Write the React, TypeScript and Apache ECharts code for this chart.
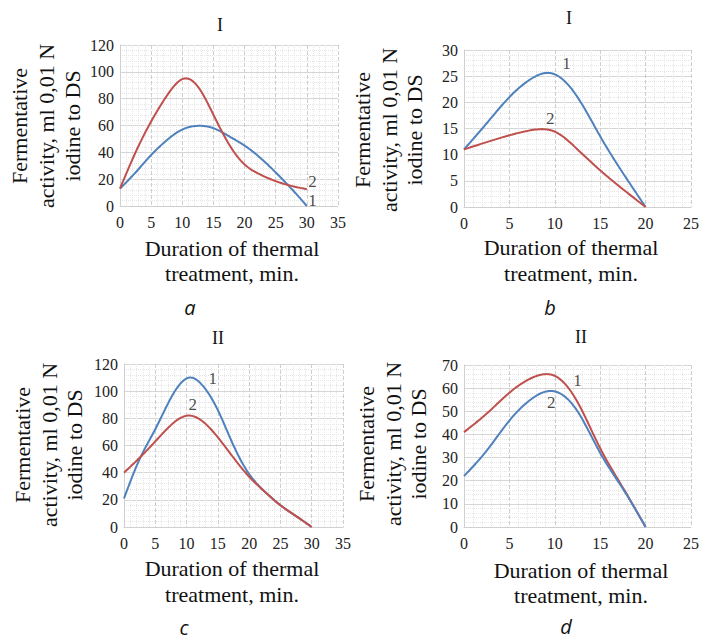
import React, { useEffect, useRef } from "react";
import * as echarts from "echarts";

// ---- data ----
// panel a
const aX1 = [0, 2.5, 5, 7.5, 10, 12.3, 15, 17.5, 20, 22.5, 25, 27.5, 30];
const aY1 = [13, 25, 38, 49, 57, 59.7, 58, 52, 45, 36, 25, 13, 0];
const aX2 = [0, 2.5, 5, 7.5, 10.3, 12.5, 15, 17.5, 20, 22.5, 25, 27.5, 30];
const aY2 = [13, 40, 63, 82, 95, 89, 68, 46, 31, 23.5, 18.5, 15, 12.5];
// panel b
const bX1 = [0, 2.5, 5, 7.5, 9.5, 12.5, 15, 17.5, 20];
const bY1 = [11, 16, 21, 24.6, 25.6, 21, 13.5, 6.5, 0];
const bX2 = [0, 2.5, 5, 7.5, 10, 12.5, 15, 17.5, 20];
const bY2 = [11, 12.4, 13.7, 14.7, 14.4, 11, 7, 3.4, 0];
// panel c
const cX1 = [0, 2.5, 5, 7.5, 10.5, 12.5, 15, 17.5, 20, 22.5, 25, 27.5, 30];
const cY1 = [21, 50, 72, 95, 110, 104.5, 86, 60, 39, 26, 16, 8, 0];
const cX2 = [0, 2.5, 5, 7.5, 10.2, 12.5, 15, 17.5, 20, 22.5, 25, 27.5, 30];
const cY2 = [40, 51, 63, 75, 82, 78, 66, 51, 37, 26, 16, 8, 0];
// panel d
const dX1 = [0, 2.5, 5, 7.5, 8.8, 10, 12.5, 15, 17.5, 20];
const dY1 = [41, 49, 58, 64.5, 66, 65.3, 54, 34, 17, 0];
const dX2 = [0, 2.5, 5, 7.5, 9.5, 12.5, 15, 17.5, 20];
const dY2 = [22, 33, 46, 55.5, 58.8, 50, 32, 16.5, 0];

// curve number labels (data coordinates)
const labelsA = [[30.9, 4.2, "1"], [30.9, 18, "2"]];
const labelsB = [[11.3, 27.4, "1"], [9.5, 17, "2"]];
const labelsC = [[14.2, 109, "1"], [11, 90, "2"]];
const labelsD = [[12.5, 63.5, "1"], [9.6, 54, "2"]];

const panelTitles = ["I", "I", "II", "II"];
const panelLetters = ["a", "b", "c", "d"];
const yNameLines = ["Fermentative", "activity, ml 0,01 N", "iodine to DS"];
const xNameLines = ["Duration of thermal", "treatment, min."];

const BLUE = "#4F81BD";
const RED = "#C0504D";
const SERIF = "Liberation Serif";

const pairs = (xs: number[], ys: number[]) => xs.map((x, i) => [x, ys[i]]);

// natural cubic spline through the given points, sampled for drawing
function splineSamples(xs: number[], ys: number[], per = 14): number[][] {
  const n = xs.length;
  if (n < 3) return pairs(xs, ys);
  const h: number[] = [];
  for (let i = 0; i < n - 1; i++) h.push(xs[i + 1] - xs[i]);
  const M = new Array(n).fill(0);
  const A: number[] = [], B: number[] = [], C: number[] = [], D: number[] = [];
  for (let i = 1; i < n - 1; i++) {
    A.push(h[i - 1]);
    B.push(2 * (h[i - 1] + h[i]));
    C.push(h[i]);
    D.push(6 * ((ys[i + 1] - ys[i]) / h[i] - (ys[i] - ys[i - 1]) / h[i - 1]));
  }
  const m = B.length;
  for (let i = 1; i < m; i++) {
    const w = A[i] / B[i - 1];
    B[i] -= w * C[i - 1];
    D[i] -= w * D[i - 1];
  }
  const sol = new Array(m).fill(0);
  sol[m - 1] = D[m - 1] / B[m - 1];
  for (let i = m - 2; i >= 0; i--) sol[i] = (D[i] - C[i] * sol[i + 1]) / B[i];
  for (let i = 0; i < m; i++) M[i + 1] = sol[i];
  const out: number[][] = [];
  for (let i = 0; i < n - 1; i++) {
    const hi = h[i];
    for (let k = 0; k < per; k++) {
      const x = xs[i] + (hi * k) / per;
      const a = xs[i + 1] - x;
      const b = x - xs[i];
      const y =
        (M[i] * a * a * a) / (6 * hi) +
        (M[i + 1] * b * b * b) / (6 * hi) +
        (ys[i] / hi - (M[i] * hi) / 6) * a +
        (ys[i + 1] / hi - (M[i + 1] * hi) / 6) * b;
      out.push([x, y]);
    }
  }
  out.push([xs[n - 1], ys[n - 1]]);
  return out;
}

export default function App() {
  const ref = useRef<HTMLDivElement>(null);
  useEffect(() => {
    if (!ref.current) return;
    const chart = echarts.init(ref.current, null, { renderer: "svg" });

    const grids = [
      { left: 120, top: 45, width: 218, height: 161 },
      { left: 464, top: 50, width: 233, height: 157 },
      { left: 124, top: 364, width: 219, height: 163 },
      { left: 464, top: 365, width: 240, height: 162 },
    ];
    const xMax = [35, 25, 35, 25];
    const yMax = [120, 30, 120, 70];
    const yInt = [20, 5, 20, 10];

    const xAxis = grids.map((_, i) => ({
      type: "value",
      gridIndex: i,
      min: 0,
      max: xMax[i],
      interval: 5,
      axisLine: { show: true, lineStyle: { color: "#d0d0d0" } },
      axisTick: { show: false },
      axisLabel: { color: "#222", fontSize: 16, fontFamily: SERIF, margin: 8 },
      splitLine: { show: true, lineStyle: { color: "#cfcfcf", type: "dashed", width: 1 } },
      minorTick: { show: false, splitNumber: 5 },
      minorSplitLine: { show: true, lineStyle: { color: "#e6e6e6", type: "dotted", width: 1 } },
    }));
    const yAxis = grids.map((_, i) => ({
      type: "value",
      gridIndex: i,
      min: 0,
      max: yMax[i],
      interval: yInt[i],
      axisLine: { show: true, lineStyle: { color: "#d0d0d0" } },
      axisTick: { show: false },
      axisLabel: { color: "#222", fontSize: 16, fontFamily: SERIF, margin: 6 },
      splitLine: { show: true, lineStyle: { color: "#d6d6d6", type: "solid", width: 1 } },
      minorTick: { show: false, splitNumber: 5 },
      minorSplitLine: { show: true, lineStyle: { color: "#e6e6e6", type: "dotted", width: 1 } },
    }));

    const curve = (idx: number, xs: number[], ys: number[], color: string) => ({
      type: "custom",
      xAxisIndex: idx,
      yAxisIndex: idx,
      coordinateSystem: "cartesian2d",
      data: pairs(xs, ys),
      silent: true,
      clip: false,
      renderItem: (params: any, api: any) => {
        if (params.dataIndex !== 0) return null;
        const pts = splineSamples(xs, ys).map((p) => api.coord(p));
        return {
          type: "polyline",
          shape: { points: pts, smooth: 0 },
          style: { stroke: color, lineWidth: 2, fill: "none", lineJoin: "round" },
        };
      },
    });

    const labels = (idx: number, list: any[]) => ({
      type: "scatter",
      xAxisIndex: idx,
      yAxisIndex: idx,
      symbolSize: 0,
      silent: true,
      itemStyle: { color: "#222" },
      data: list.map((l) => ({ value: [l[0], l[1]], name: l[2] })),
      label: {
        show: true,
        position: [0, 0],
        align: "center",
        verticalAlign: "middle",
        formatter: (p: any) => p.name,
        color: "#1a1a1a",
        textBorderWidth: 0,
        fontSize: 17,
        fontFamily: SERIF,
      },
    });

    const series = [
      curve(0, aX1, aY1, BLUE),
      curve(0, aX2, aY2, RED),
      curve(1, bX1, bY1, BLUE),
      curve(1, bX2, bY2, RED),
      curve(2, cX1, cY1, BLUE),
      curve(2, cX2, cY2, RED),
      curve(3, dX1, dY1, RED),
      curve(3, dX2, dY2, BLUE),
      labels(0, labelsA),
      labels(1, labelsB),
      labels(2, labelsC),
      labels(3, labelsD),
    ];

    const txt = (x: number, y: number, text: string, size: number, extra: any = {}) => ({
      type: "text",
      x,
      y,
      silent: true,
      style: {
        text,
        fill: "#111",
        fontSize: size,
        fontFamily: SERIF,
        align: "center",
        verticalAlign: "middle",
        ...extra,
      },
    });
    const rtxt = (x: number, y: number, text: string) => ({
      ...txt(x, y, text, 22),
      rotation: Math.PI / 2,
    });

    const titlePos = [
      [220, 25],
      [569, 18],
      [218, 338],
      [581, 337],
    ];
    const letterPos = [
      [190, 307],
      [550, 307],
      [184, 627],
      [566, 626],
    ];
    const yNamePos = [
      { xs: [19, 46, 72], y: 126 },
      { xs: [362, 389, 414], y: 130 },
      { xs: [22, 49, 74], y: 445 },
      { xs: [366, 393, 418], y: 444 },
    ];
    const xNamePos = [
      [232, 248, 273],
      [571, 247, 273],
      [232, 568, 594],
      [581, 570, 595],
    ];

    const graphic: any[] = [];
    for (let i = 0; i < 4; i++) {
      graphic.push(txt(titlePos[i][0], titlePos[i][1], panelTitles[i], 18));
      graphic.push(
        txt(letterPos[i][0], letterPos[i][1], panelLetters[i], 20, {
          fontFamily: "Open Sans",
          fontStyle: "italic",
        })
      );
      yNameLines.forEach((l, k) => graphic.push(rtxt(yNamePos[i].xs[k], yNamePos[i].y, l)));
      xNameLines.forEach((l, k) =>
        graphic.push(txt(xNamePos[i][0], xNamePos[i][1 + k], l, 22))
      );
    }

    chart.setOption({
      animation: false,
      backgroundColor: "#ffffff",
      grid: grids,
      xAxis,
      yAxis,
      series,
      graphic,
    } as any);
    return () => chart.dispose();
  }, []);
  return (
    <div
      ref={ref}
      style={{ position: "absolute", left: 0, top: 0, width: 702, height: 640 }}
    />
  );
}
